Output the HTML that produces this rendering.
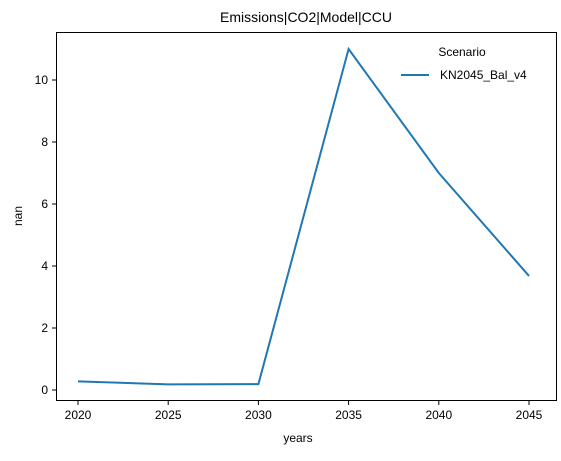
<!DOCTYPE html>
<html><head><style>
body{margin:0;background:#fff;font-family:"Liberation Sans","DejaVu Sans",sans-serif;}
svg text{font-family:"Liberation Sans","DejaVu Sans",sans-serif;fill:#000}
</style></head><body>
<svg width="561" height="456" id="c">
<rect x="0" y="0" width="561" height="456" fill="#fff"/>
<text x="306" y="22" font-size="14" text-anchor="middle">Emissions|CO2|Model|CCU</text>
<text x="298" y="442" font-size="12" text-anchor="middle">years</text>
<text x="22" y="216" font-size="12" text-anchor="middle" transform="rotate(-90 22 216)">nan</text>
<g id="ticks"></g>
<path id="line" fill="none" stroke="#1f77b4" stroke-width="2"/>
<rect x="56.5" y="32.5" width="500" height="368" fill="none" stroke="#000" stroke-width="1"/>
<g>
<text x="462" y="56" font-size="12" text-anchor="middle">Scenario</text>
<line x1="401" y1="75" x2="429" y2="75" stroke="#1f77b4" stroke-width="2"/>
<text x="440" y="79" font-size="12">KN2045_Bal_v4</text>
</g>
</svg>
<script>
const years=[2020,2025,2030,2035,2040,2045];
const values=[0.28,0.18,0.19,11.0,7.0,3.68];
const yTicks=[0,2,4,6,8,10];
const xs=y=>78+(y-2020)*(451/25);
const ys=v=>390-v*31;
const ns="http://www.w3.org/2000/svg";
const g=document.getElementById('ticks');
years.forEach(y=>{
 const l=document.createElementNS(ns,'line');
 l.setAttribute('x1',xs(y));l.setAttribute('x2',xs(y));l.setAttribute('y1',401);l.setAttribute('y2',405);l.setAttribute('stroke','#000');
 
 
 g.appendChild(l);
 const t=document.createElementNS(ns,'text');
 t.setAttribute('x',xs(y));t.setAttribute('y',419);t.setAttribute('font-size','12');t.setAttribute('text-anchor','middle');t.textContent=y;
 
 
 g.appendChild(t);
});
yTicks.forEach(v=>{
 const l=document.createElementNS(ns,'line');
 l.setAttribute('x1',52);l.setAttribute('x2',56);l.setAttribute('y1',ys(v));l.setAttribute('y2',ys(v));l.setAttribute('stroke','#000');
 
 
 g.appendChild(l);
 const t=document.createElementNS(ns,'text');
 t.setAttribute('x',48);t.setAttribute('y',ys(v)+4);t.setAttribute('font-size','12');t.setAttribute('text-anchor','end');t.textContent=v;
 
 
 g.appendChild(t);
});
document.getElementById('line').setAttribute('d',years.map((y,i)=>(i?'L':'M')+xs(y)+','+ys(values[i])).join(' '));
</script>
</body></html>
